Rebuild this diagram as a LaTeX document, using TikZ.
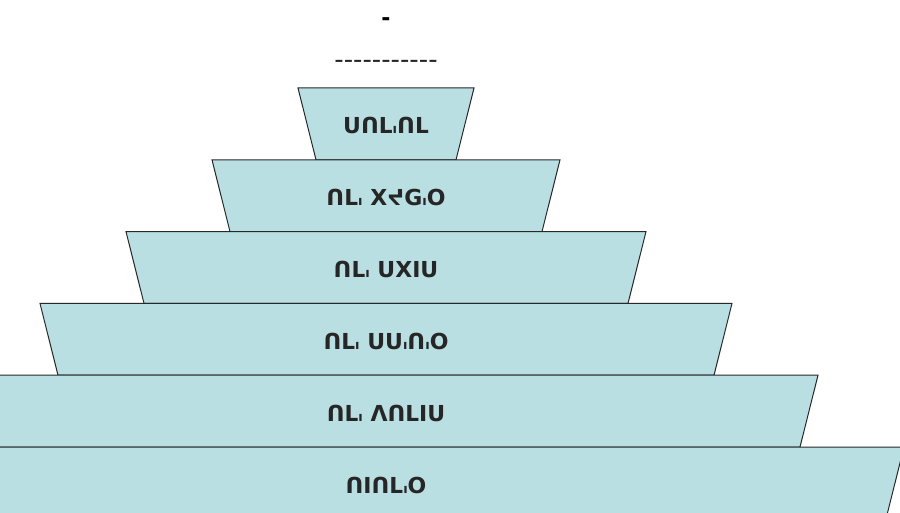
\documentclass[tikz,border=0pt]{standalone}
\usepackage{fontspec}
\setmainfont{DejaVu Sans}
\definecolor{lvlblue}{RGB}{185,223,227}
\definecolor{edge}{RGB}{40,40,40}
\newcommand{\tk}{{\fontsize{13}{13}\selectfont ı}}
\tikzset{
  levelshape/.style={draw=edge, line width=1pt, fill=lvlblue, line join=miter},
  lbl/.style={font=\bfseries\fontsize{22}{22}\selectfont, text=black!85, inner sep=0pt},
  ttl/.style={font=\bfseries\fontsize{22}{22}\selectfont, inner sep=0pt},
  subttl/.style={font=\fontsize{26}{26}\selectfont, text=black!85, inner sep=0pt}
}
\begin{document}
\begin{tikzpicture}[x=1pt,y=-1pt]
\useasboundingbox (0,0) rectangle (900,513);
\clip (0,0) rectangle (900,513);
\foreach \k in {0,...,5}{
  \pgfmathsetmacro\yt{88+71.8*\k}
  \pgfmathsetmacro\yb{159.8+71.8*\k}
  \pgfmathsetmacro\wt{88+86*\k}
  \pgfmathsetmacro\wb{70+86*\k}
  \draw[levelshape] (386-\wt,\yt) -- (386+\wt,\yt) -- (386+\wb,\yb) -- (386-\wb,\yb) -- cycle;
}
\node[ttl] (title) at (386,22) {-};
\node[subttl] (subtitle) at (386,64) {{-}{-}{-}{-}{-}{-}{-}{-}{-}{-}{-}};
\node[lbl] (l1) at (386,125) {ᑌᑎᒪ\tk ᑎᒪ};
\node[lbl] (l2) at (386,197) {ᑎᒪ\tk{} XᔪG\tk O};
\node[lbl] (l3) at (386,269) {ᑎᒪ\tk{} ᑌXIᑌ};
\node[lbl] (l4) at (386,341) {ᑎᒪ\tk{} ᑌᑌ\tk ᑎ\tk O};
\node[lbl] (l5) at (386,413) {ᑎᒪ\tk{} ᐱᑎᒪIᑌ};
\node[lbl] (l6) at (386,485) {ᑎIᑎᒪ\tk O};
\end{tikzpicture}
\end{document}
